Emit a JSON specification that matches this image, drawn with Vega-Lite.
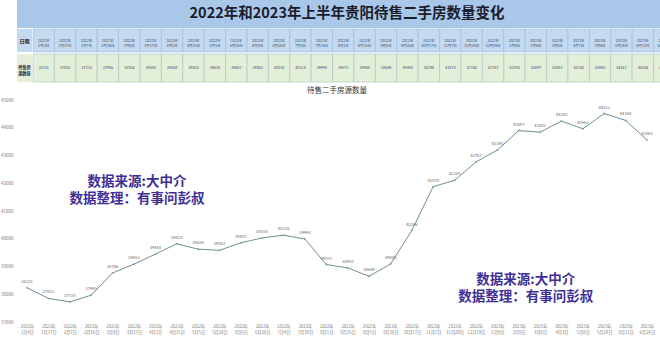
{
  "$schema": "https://vega.github.io/schema/vega-lite/v6.json",
  "background": "white",
  "padding": 0,
  "config": {
    "view": {"stroke": null},
    "font": "Noto Sans CJK SC",
    "axisY": {"title": null, "domain": false, "ticks": false, "grid": false, "tickCount": 8, "format": "d", "labelOverlap": false, "labelFontSize": 4.5, "labelColor": "#777777", "labelPadding": 4},
    "axisX": {"title": null, "domain": false, "ticks": false, "labelAngle": 0, "labelFontSize": 4.2, "labelColor": "#777777", "labelPadding": 2, "labelLineHeight": 6}
  },
  "datasets": {
    "series": [
      {"date": "2022年 1月4日", "value": 38231},
      {"date": "2022年 1月17日", "value": 37851},
      {"date": "2022年 2月7日", "value": 37725},
      {"date": "2022年 2月16日", "value": 37965},
      {"date": "2022年 3月8日", "value": 38766},
      {"date": "2022年 3月17日", "value": 39083},
      {"date": "2022年 4月1日", "value": 39444},
      {"date": "2022年 4月15日", "value": 39818},
      {"date": "2022年 5月5日", "value": 39626},
      {"date": "2022年 5月20日", "value": 39582},
      {"date": "2022年 6月6日", "value": 39853},
      {"date": "2022年 6月20日", "value": 40030},
      {"date": "2022年 7月4日", "value": 40128},
      {"date": "2022年 7月18日", "value": 39990},
      {"date": "2022年 8月1日", "value": 39071},
      {"date": "2022年 8月15日", "value": 38950},
      {"date": "2022年 9月5日", "value": 38649},
      {"date": "2022年 9月26日", "value": 39088},
      {"date": "2022年 10月17日", "value": 40296},
      {"date": "2022年 11月7日", "value": 41878},
      {"date": "2022年 11月28日", "value": 42105},
      {"date": "2022年 12月19日", "value": 42767},
      {"date": "2023年 1月9日", "value": 43195},
      {"date": "2023年 2月6日", "value": 43897},
      {"date": "2023年 3月6日", "value": 43841},
      {"date": "2023年 4月3日", "value": 44240},
      {"date": "2023年 5月8日", "value": 43963},
      {"date": "2023年 5月29日", "value": 44512},
      {"date": "2023年 6月12日", "value": 44264},
      {"date": "2023年 6月26日", "value": 43563}
    ]
  },
  "spacing": 3,
  "vconcat": [
    {
      "spacing": 0,
      "vconcat": [
        {
          "width": 660,
          "height": 28,
          "view": {"fill": "#a9c8e9", "stroke": null},
          "data": {"values": [{"t": "2022年和2023年上半年贵阳待售二手房数量变化"}]},
          "mark": {"type": "text", "fontSize": 14.5, "fontWeight": "bold", "color": "#1c1c2a", "baseline": "middle", "align": "center"},
          "encoding": {"text": {"field": "t"}}
        },
        {
          "spacing": 0,
          "hconcat": [
            {
              "width": 15,
              "height": 23,
              "view": {"fill": "#c4daf1", "stroke": null},
              "data": {"values": [{"t": "日期"}]},
              "mark": {"type": "text", "fontSize": 5, "fontWeight": "bold", "color": "#1a1a3a"},
              "encoding": {"text": {"field": "t"}}
            },
            {
              "width": 642,
              "height": 23,
              "view": {"fill": "#c4daf1", "stroke": null},
              "data": {"name": "series"},
              "encoding": {
                "x": {"field": "date", "type": "ordinal", "sort": null, "scale": {"type": "band", "paddingInner": 0, "paddingOuter": 0}, "axis": null}
              },
              "layer": [
                {"mark": {"type": "rect", "fill": "#c4daf1", "stroke": "#9fbbd8", "strokeWidth": 0.6}},
                {"mark": {"type": "text", "fontSize": 3.6, "color": "#3a4a66", "lineBreak": " ", "lineHeight": 5}, "encoding": {"text": {"field": "date"}}}
              ]
            }
          ]
        },
        {
          "spacing": 0,
          "hconcat": [
            {
              "width": 15,
              "height": 28,
              "view": {"fill": "#e3efd9", "stroke": null},
              "data": {"values": [{"t": "待售房 源数量"}]},
              "mark": {"type": "text", "fontSize": 4.2, "fontWeight": "bold", "color": "#1a1a3a", "lineBreak": " ", "lineHeight": 6},
              "encoding": {"text": {"field": "t"}}
            },
            {
              "width": 642,
              "height": 28,
              "view": {"fill": "#e3efd9", "stroke": null},
              "data": {"name": "series"},
              "encoding": {
                "x": {"field": "date", "type": "ordinal", "sort": null, "scale": {"type": "band", "paddingInner": 0, "paddingOuter": 0}, "axis": null}
              },
              "layer": [
                {"mark": {"type": "rect", "fill": "#e3efd9", "stroke": "#a9c3c0", "strokeWidth": 0.6}},
                {"mark": {"type": "text", "fontSize": 3.8, "color": "#3a4a66"}, "encoding": {"text": {"field": "value", "type": "quantitative", "format": "d"}}}
              ]
            }
          ]
        }
      ]
    },
    {
      "width": 640,
      "height": 222,
      "title": {"text": "待售二手房源数量", "fontSize": 7.5, "fontWeight": "normal", "color": "#333333", "offset": 3, "anchor": "middle"},
      "data": {"name": "series"},
      "encoding": {
        "x": {
          "field": "date", "type": "ordinal", "sort": null,
          "scale": {"type": "point", "padding": 0.47},
          "axis": {"labelExpr": "split(datum.label, ' ')"}
        }
      },
      "layer": [
        {
          "mark": {"type": "line", "color": "#6f8f95", "strokeWidth": 1},
          "encoding": {"y": {"field": "value", "type": "quantitative", "scale": {"domain": [37000, 45000], "nice": false, "zero": false}}}
        },
        {
          "mark": {"type": "point", "filled": true, "size": 4, "color": "#6f8f95"},
          "encoding": {"y": {"field": "value", "type": "quantitative"}}
        },
        {
          "mark": {"type": "text", "dy": -6, "fontSize": 4.2, "color": "#666666"},
          "encoding": {"y": {"field": "value", "type": "quantitative"}, "text": {"field": "value", "type": "quantitative", "format": "d"}}
        },
        {
          "data": {"values": [{}]},
          "mark": {"type": "text", "fontSize": 13.5, "fontWeight": "bold", "color": "#3f2f96", "lineHeight": 17, "baseline": "middle", "dx": 3},
          "encoding": {
            "x": {"datum": "2022年 3月17日"},
            "y": {"datum": 42050},
            "text": {"value": ["数据来源:大中介", "数据整理：有事问彭叔"]}
          }
        },
        {
          "data": {"values": [{}]},
          "mark": {"type": "text", "fontSize": 13.5, "fontWeight": "bold", "color": "#3f2f96", "lineHeight": 17, "baseline": "middle", "dx": 7},
          "encoding": {
            "x": {"datum": "2023年 2月6日"},
            "y": {"datum": 38530},
            "text": {"value": ["数据来源:大中介", "数据整理：有事问彭叔"]}
          }
        }
      ]
    }
  ]
}
